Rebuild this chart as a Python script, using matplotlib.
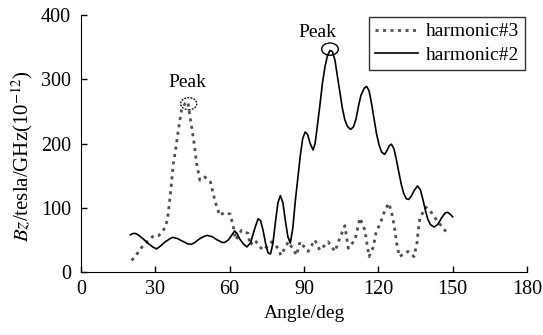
import matplotlib
matplotlib.use("Agg")
import matplotlib.pyplot as plt
from matplotlib.patches import Ellipse

# harmonic#3 (dashed)
h3_angle = [20.5, 23, 25.2, 28, 29.5, 31.5, 34.2, 35.2, 36.3, 37.3, 38.2, 39.5, 40.6, 42, 43.2,
            44, 44.9, 45.7, 46.7, 48, 50, 52.3, 53.2, 54.3, 56, 58, 60.3, 61.5, 62.5, 64.8,
            67.5, 68.2, 70.2, 72, 73.6, 77, 79.6, 80.7, 83.7, 86, 87, 88.4, 91.7, 94.4, 96.4,
            99.8, 102.5, 104.5, 106.5, 107.9, 110.6, 112.6, 114.6, 115.3, 116.3, 118, 119,
            121.3, 122.7, 124.3, 125.8, 126.7, 127.4, 128.5, 132, 134.4, 135.7, 136.1, 136.8,
            139.2, 141, 143.5, 147.3]
h3_bz = [18, 30, 42, 52, 57, 57, 70, 90, 128, 169, 190, 226, 252, 262, 265,
         242, 221, 200, 169, 143, 148, 140, 125, 108, 88, 93, 90, 70, 50, 65,
         60, 42, 50, 40, 34, 47, 37, 26, 47, 33, 26, 47, 32, 50, 34,
         47, 32, 53, 72, 37, 50, 84, 65, 47, 24, 39, 60,
         81, 97, 107, 86, 65, 45, 24, 32, 24, 47, 65, 84,
         101, 95, 81, 63]

# harmonic#2 (solid)
h2_angle = [20, 21, 22, 23, 25, 27, 29, 30.5, 32, 34, 36, 37, 39, 41, 43, 44.5, 46, 48, 50, 51,
            53, 55, 57, 58, 59.5, 61, 62, 63, 64, 65.5, 67, 68.5, 70, 71.5, 72.5, 73.5, 74.5,
            75.5, 76.5, 77.5, 78.5, 79.5, 80.5, 81.5, 82.5, 83.5, 84.5, 85.5, 86.5, 87.5, 88.5,
            89.5, 90.5, 91.5, 92.5, 93.7, 94.5, 95.5, 96.5, 97.5, 98.5, 99.5, 100.5, 101.5,
            102.5, 103.5, 104.5, 105.5, 106.5, 107.5, 108.8, 110, 111, 112, 113, 114.3, 115.3,
            116.3, 117.3, 118.3, 119.3, 120.3, 121.3, 122.5, 123.5, 124.5, 125.3, 126.3, 127.3,
            128.3, 129.3, 130.3, 131.3, 132.3, 133.3, 134.5, 135.8, 137, 138, 139, 140, 141,
            142.5, 144, 145.5, 147, 148, 149, 150]
h2_bz = [58, 60, 60, 58, 52, 45, 39, 36, 40, 47, 52, 54, 52, 48, 44, 43, 46, 52, 56, 57,
         55, 50, 46, 46, 50, 58, 64, 60, 52, 44, 39, 46, 66, 83, 80, 65, 45,
         30, 28, 45, 78, 108, 119, 108, 80, 55, 45, 68, 110, 145, 180,
         208, 218, 214, 200, 190, 200, 230, 262, 295, 320, 337, 345, 343,
         330, 305, 280, 255, 237, 227, 222, 226, 238, 258, 275, 286, 289,
         282, 262, 238, 215, 198, 187, 183, 189, 197, 199, 192, 175,
         155, 136, 122, 114, 113, 118, 127, 134, 128, 113, 96, 82, 74,
         70, 74, 84, 92, 93, 90, 86]

peak1 = (43.5, 262)
peak2 = (100.5, 347)

plt.rcParams['font.family'] = ['Liberation Serif', 'DejaVu Serif']
plt.rcParams['mathtext.fontset'] = 'stix'

fig = plt.figure(figsize=(5.43, 3.35), dpi=100)
ax = fig.add_axes([0.149, 0.188, 0.8215, 0.767])

ax.plot(h3_angle, h3_bz, color='#505050', lw=2.0, ls=(0, (1.1, 1.6)), label='harmonic#3')
ax.plot(h2_angle, h2_bz, color='black', lw=1.2, label='harmonic#2')

ax.add_patch(Ellipse(peak1, 6.5, 19, fill=False, ec='black', lw=0.9, ls=(0, (1.5, 1))))
ax.add_patch(Ellipse(peak2, 6.7, 19, fill=False, ec='black', lw=1.0))
ax.text(peak1[0] - 0.5, peak1[1] + 20, 'Peak', ha='center', va='bottom', fontsize=14)
ax.text(peak2[0] - 5, peak2[1] + 13, 'Peak', ha='center', va='bottom', fontsize=14)

ax.set_xlim(0, 180)
ax.set_ylim(0, 400)
ax.set_xticks(range(0, 181, 30))
ax.set_yticks(range(0, 401, 100))
ax.spines['top'].set_visible(False)
ax.spines['right'].set_visible(False)
ax.tick_params(direction='in', length=4, labelsize=14.5, width=1)
ax.tick_params(axis='y', pad=7)
ax.tick_params(axis='x', pad=6)

ax.set_xlabel('Angle/deg', fontsize=14, labelpad=4)
ax.set_ylabel('$Bz$/tesla/GHz(10$^{-12}$)', fontsize=15, labelpad=2)
ax.yaxis.set_label_coords(-0.102, 0.45)

leg = ax.legend(loc='upper right', bbox_to_anchor=(1.0, 1.0), fontsize=14, frameon=True,
                fancybox=False, edgecolor='black', handlelength=2.2, borderpad=0.3,
                labelspacing=0.3, handletextpad=0.4, borderaxespad=0.1)
leg.get_frame().set_linewidth(1.0)

fig.savefig('out.png', dpi=100)
